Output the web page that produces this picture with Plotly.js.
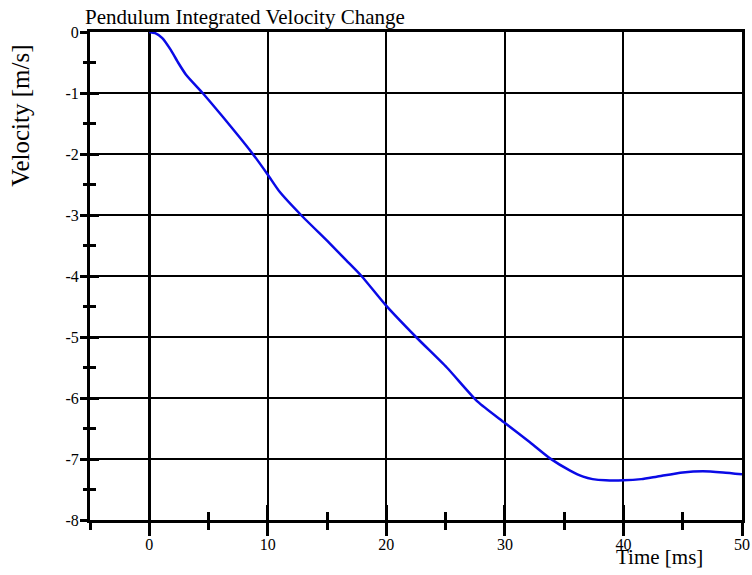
<!DOCTYPE html>
<html>
<head>
<meta charset="utf-8">
<script src="https://cdn.plot.ly/plotly-3.0.1.min.js"></script>
<style>html,body{margin:0;padding:0;background:#fff;}#chart{width:752px;height:575px;}</style>
</head>
<body>
<div id="chart"></div>
<script>
const timeMs = [0, 0.5, 1.1, 1.8, 2.4, 3.1, 4.5, 6.2, 7.6, 8.7, 10.0, 11.0, 12.8, 15.2, 16.6, 17.9, 20.0, 22.5, 25.1, 27.7, 30.0, 32.0, 33.8, 35.5, 36.6, 37.4, 38.5, 40.0, 41.5, 42.8, 45.0, 46.7, 48.4, 50.0];
const velocity = [0, -0.02, -0.10, -0.29, -0.49, -0.70, -1.00, -1.39, -1.72, -1.99, -2.34, -2.62, -3.00, -3.46, -3.74, -4.00, -4.49, -5.00, -5.50, -6.06, -6.41, -6.71, -6.99, -7.19, -7.29, -7.33, -7.35, -7.35, -7.33, -7.29, -7.22, -7.20, -7.22, -7.25];
const xTickVals = [0, 10, 20, 30, 40, 50];
const yTickVals = [0, -1, -2, -3, -4, -5, -6, -7, -8];
const titleText = 'Pendulum Integrated Velocity Change';
const xTitle = 'Time [ms]';
const yTitle = 'Velocity [m/s]';

const serif = 'Liberation Serif, Times New Roman, serif';

const traces = [{
  x: timeMs, y: velocity, type: 'scatter', mode: 'lines',
  line: {color: '#0a0ae6', width: 2.5, shape: 'spline', smoothing: 0.6},
  hoverinfo: 'skip', showlegend: false
}, {
  x: [null], y: [null], xaxis: 'x2', yaxis: 'y2', type: 'scatter', mode: 'lines',
  showlegend: false, hoverinfo: 'skip'
}];

const layout = {
  width: 752, height: 575,
  margin: {l: 90, r: 10, t: 32, b: 55},
  paper_bgcolor: '#fff', plot_bgcolor: '#fff',
  font: {family: serif, color: '#000'},
  title: {text: titleText, font: {family: serif, size: 21, color: '#000'},
          x: 85/752, xanchor: 'left', xref: 'container', y: 1 - 17/575, yanchor: 'middle', yref: 'container'},
  xaxis: {
    range: [-5, 50], tickvals: xTickVals, ticktext: xTickVals.map(String),
    ticks: 'outside', ticklen: 13, tickwidth: 3, tickcolor: '#000', ticklabelstandoff: -5,
    minor: {dtick: 5, tick0: 0, ticks: 'outside', ticklen: 7, tickwidth: 3, tickcolor: '#000', showgrid: false},
    showgrid: true, gridcolor: '#000', gridwidth: 2,
    zeroline: true, zerolinecolor: '#000', zerolinewidth: 3,
    showline: true, linecolor: '#000', linewidth: 3, mirror: true,
    tickfont: {family: serif, size: 16, color: '#000'}, fixedrange: true
  },
  xaxis2: {
    overlaying: 'x', anchor: 'y', side: 'bottom', range: [-5, 50],
    tickvals: xTickVals, showticklabels: false,
    ticks: 'inside', ticklen: 15, tickwidth: 3, tickcolor: '#000',
    minor: {dtick: 5, tick0: 0, ticks: 'inside', ticklen: 8, tickwidth: 3, tickcolor: '#000', showgrid: false},
    showgrid: false, zeroline: false, showline: false, fixedrange: true
  },
  yaxis: {
    range: [-8, 0], tickvals: yTickVals, ticktext: yTickVals.map(String),
    ticks: 'outside', ticklen: 7, tickwidth: 3, tickcolor: '#000', ticklabelstandoff: -2,
    minor: {dtick: 0.5, tick0: 0, ticks: 'outside', ticklen: 4, tickwidth: 3, tickcolor: '#000', showgrid: false},
    showgrid: true, gridcolor: '#000', gridwidth: 2,
    zeroline: false,
    showline: true, linecolor: '#000', linewidth: 3, mirror: true,
    tickfont: {family: serif, size: 16, color: '#000'}, fixedrange: true
  },
  yaxis2: {
    overlaying: 'y', anchor: 'x', side: 'left', range: [-8, 0],
    tickvals: yTickVals, showticklabels: false,
    ticks: 'inside', ticklen: 9, tickwidth: 3, tickcolor: '#000',
    minor: {dtick: 0.5, tick0: 0, ticks: 'inside', ticklen: 6, tickwidth: 3, tickcolor: '#000', showgrid: false},
    showgrid: false, zeroline: false, showline: false, fixedrange: true
  },
  annotations: [
    {text: xTitle, xref: 'paper', yref: 'paper', x: 0.874, y: -0.076, xanchor: 'center', yanchor: 'middle',
     showarrow: false, font: {family: serif, size: 21, color: '#000'}},
    {text: yTitle, xref: 'paper', yref: 'paper', x: -0.106, y: 0.828, xanchor: 'center', yanchor: 'middle',
     textangle: -90, showarrow: false, font: {family: serif, size: 25, color: '#000'}}
  ]
};

Plotly.newPlot('chart', traces, layout, {displayModeBar: false, staticPlot: true});
</script>
</body>
</html>
